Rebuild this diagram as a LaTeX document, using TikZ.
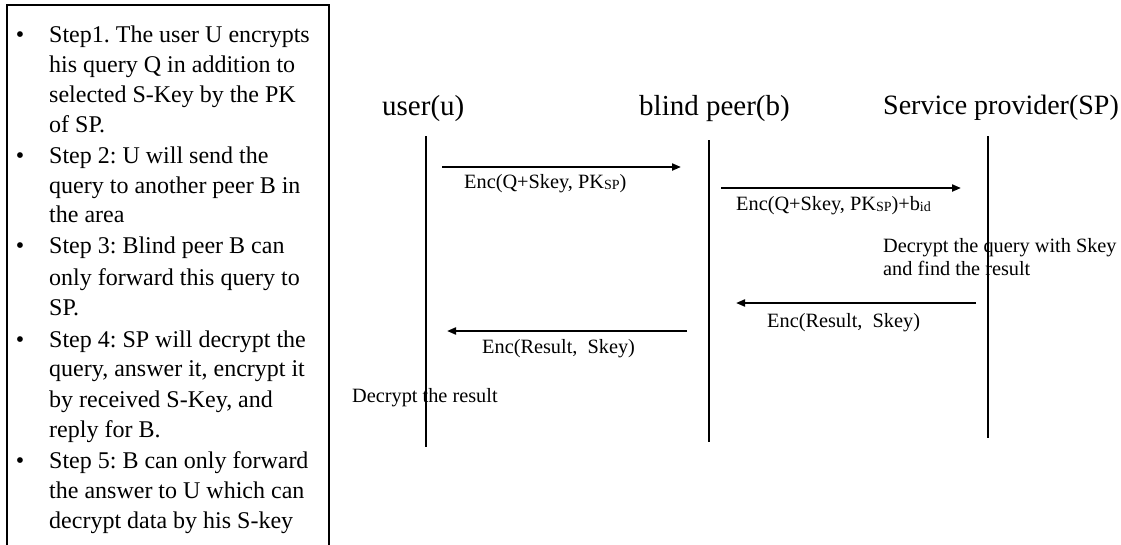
\documentclass[tikz,border=0pt]{standalone}
\usepackage{fontspec}
\setmainfont{Liberation Serif}
\usetikzlibrary{arrows.meta}
\frenchspacing
\newcommand{\smallsub}[1]{{\fontsize{14}{14}\selectfont\raisebox{-1.5pt}{#1}}}
\tikzset{
  steptext/.style={anchor=base west, inner sep=0pt, font=\fontsize{24}{30}\selectfont},
  bulletmark/.style={anchor=base, inner sep=0pt, font=\fontsize{24}{30}\selectfont},
  heading/.style={anchor=base west, inner sep=0pt},
  msglabel/.style={anchor=base west, inner sep=0pt, font=\fontsize{20.3}{24}\selectfont},
  lifeline/.style={line width=2.6pt},
  msg/.style={line width=2pt, -{Triangle[length=9pt,width=7pt]}},
  framebox/.style={line width=2pt}
}
\begin{document}
\begin{tikzpicture}[x=1pt,y=-1pt]
\useasboundingbox (0,0) rectangle (1121,544);
% left frame (bottom edge lies outside the picture)
\draw[framebox] (7,550) -- (7,5) -- (329,5) -- (329,550);
% step lines
\foreach \n/\yy/\t in {
  1/42/{Step1. The user U encrypts},
  2/72/{his query Q in addition to},
  3/102/{selected S-Key by the PK},
  4/132/{of SP.},
  5/163/{Step 2: U will send the},
  6/193/{query to another peer B in},
  7/222/{the area},
  8/253/{Step 3: Blind peer B can},
  9/285/{only forward this query to},
  10/315/{SP.},
  11/347/{Step 4: SP will decrypt the},
  12/376/{query, answer it, encrypt it},
  13/407/{by received S-Key, and},
  14/437/{reply for B.},
  15/468/{Step 5: B can only forward},
  16/498/{the answer to U which can},
  17/528/{decrypt data by his S-key}}
  {\node[steptext] (line\n) at (49,\yy) {\t};}
\foreach \n/\yy in {1/42,5/163,8/253,11/347,15/468}
  {\node[bulletmark] (bul\n) at (20,\yy) {•};}
% headings
\node[heading, font=\fontsize{29}{34}\selectfont] (hu) at (382,115) {user(u)};
\node[heading, font=\fontsize{29}{34}\selectfont] (hb) at (639,115) {blind peer(b)};
\node[heading, font=\fontsize{28}{33}\selectfont] (hs) at (883,114) {Service provider(SP)};
% lifelines
\coordinate (ut) at (426,136); \coordinate (ub) at (426,447);
\coordinate (bt) at (709,140); \coordinate (bb) at (709,442);
\coordinate (st) at (988,136); \coordinate (sb) at (988,438);
\draw[lifeline] (ut) -- (ub);
\draw[lifeline] (bt) -- (bb);
\draw[lifeline] (st) -- (sb);
% message end points
\coordinate (m1a) at (442,167); \coordinate (m1b) at (681,167);
\coordinate (m2a) at (721,188); \coordinate (m2b) at (961,188);
\coordinate (m3a) at (976,303); \coordinate (m3b) at (736,303);
\coordinate (m4a) at (687,331); \coordinate (m4b) at (447,331);
\draw[msg] (m1a) -- (m1b);
\draw[msg] (m2a) -- (m2b);
\draw[msg] (m3a) -- (m3b);
\draw[msg] (m4a) -- (m4b);
% labels
\node[msglabel] (l1) at (464,188) {Enc(Q+Skey, PK\smallsub{SP})};
\node[msglabel] (l2) at (736,210) {Enc(Q+Skey, PK\smallsub{SP})+b\smallsub{id}};
\node[msglabel] (l3) at (883,252) {Decrypt the query with Skey};
\node[msglabel] (l4) at (883,275) {and find the result};
\node[msglabel] (l5) at (767,327) {Enc(Result,\ \ Skey)};
\node[msglabel] (l6) at (482,353) {Enc(Result,\ \ Skey)};
\node[msglabel] (l7) at (352,402) {Decrypt the result};
\end{tikzpicture}
\end{document}
